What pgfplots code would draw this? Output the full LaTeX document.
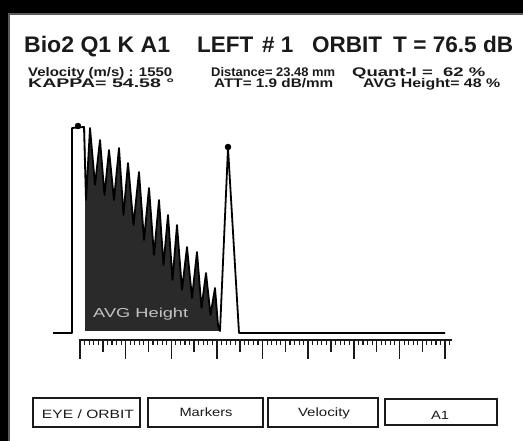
\documentclass[border=0pt]{standalone}
\usepackage{fontspec}
\setmainfont{Liberation Sans}
\usepackage{graphicx}
\usepackage{pgfplots}
\pgfplotsset{compat=1.18}

\definecolor{ink}{HTML}{1A1A1A}
\definecolor{frame}{HTML}{5A5A5A}
\definecolor{echo}{HTML}{2A2A2A}
\definecolor{gatetxt}{HTML}{C4C4C4}

% stretch a text horizontally to a given width, keeping its height
\newcommand\fitw[2]{\resizebox{#1}{\height}{#2}}

\begin{document}
\begin{tikzpicture}[x=1pt,y=1pt]
\useasboundingbox (0,0) rectangle (523,441);
% screen background and panel
\fill[black] (0,0) rectangle (523,441);
\fill[white] (9,0) rectangle (530,427);
\draw[frame, line width=2.5pt] (9,-5) -- (9,427) -- (530,427);

\begin{axis}[
  at={(0,0)}, anchor=south west,
  width=523pt, height=441pt, scale only axis,
  xmin=0, xmax=523, ymin=0, ymax=441, y dir=reverse,
  axis lines=none, clip=false,
]
% header
\node[anchor=base west, inner sep=0, font=\fontsize{22.5}{26}\selectfont\bfseries, text=ink] at (24,53) {\fitw{146pt}{Bio2 Q1 K A1}};
\node[anchor=base west, inner sep=0, font=\fontsize{22.5}{26}\selectfont\bfseries, text=ink] at (197,53) {LEFT};
\node[anchor=base west, inner sep=0, font=\fontsize{22.5}{26}\selectfont\bfseries, text=ink] at (262,53) {\# 1};
\node[anchor=base west, inner sep=0, font=\fontsize{22.5}{26}\selectfont\bfseries, text=ink] at (312,53) {ORBIT};
\node[anchor=base west, inner sep=0, font=\fontsize{22.5}{26}\selectfont\bfseries, text=ink] at (393,53) {\fitw{120pt}{T = 76.5 dB}};

\node[anchor=base west, inner sep=0, font=\fontsize{12.5}{14}\selectfont\bfseries, text=ink] at (28,76.5) {\fitw{144pt}{Velocity (m/s) : 1550}};
\node[anchor=base west, inner sep=0, font=\fontsize{12.5}{14}\selectfont\bfseries, text=ink] at (211,76.5) {\fitw{124pt}{Distance= 23.48 mm}};
\node[anchor=base west, inner sep=0, font=\fontsize{12.5}{14}\selectfont\bfseries, text=ink] at (352,76.5) {\fitw{133pt}{Quant-I =\ \ 62 \%}};
\node[anchor=base west, inner sep=0, font=\fontsize{12.5}{14}\selectfont\bfseries, text=ink] at (28,87.5) {\fitw{146pt}{KAPPA= 54.58 °}};
\node[anchor=base west, inner sep=0, font=\fontsize{12.5}{14}\selectfont\bfseries, text=ink] at (214,87.5) {\fitw{119pt}{ATT= 1.9 dB/mm}};
\node[anchor=base west, inner sep=0, font=\fontsize{12.5}{14}\selectfont\bfseries, text=ink] at (363,87.5) {\fitw{137pt}{AVG Height= 48 \%}};

% back-wall echo train (filled body)
\addplot[draw=none, fill=echo] coordinates {
 (85,128) (86,200) (90,128) (95,185) (100,140) (104.5,195) (109,150)
 (114,200) (119,148) (123.5,215) (128,163) (133.5,225) (139,172)
 (144,240) (149,188) (154,255) (159,200) (163.5,265) (168,215)
 (172.5,280) (177,225) (182,290) (187,247) (192,298) (197,252)
 (201.5,308) (206,273) (210.5,315) (215,288) (218,325) (220,331) (85,331)
};
\node[anchor=base west, inner sep=0, font=\fontsize{13}{15}\selectfont, text=gatetxt] at (93,318) {\fitw{95pt}{AVG Height}};

% A-scan trace
\addplot[black, line width=1.8pt, line join=round] coordinates {
 (53,333) (72,333) (72,128) (84,127) (86,200) (90,128) (95,185)
 (100,140) (104.5,195) (109,150) (114,200) (119,148) (123.5,215)
 (128,163) (133.5,225) (139,172) (144,240) (149,188) (154,255)
 (159,200) (163.5,265) (168,215) (172.5,280) (177,225) (182,290)
 (187,247) (192,298) (197,252) (201.5,308) (206,273) (210.5,315)
 (215,288) (218,325) (220,331) (228,148) (239,333) (445,333)
};
% peak markers
\addplot[only marks, mark=*, mark size=3pt, black] coordinates {(78,126) (228,147)};

% buttons
\draw[ink, line width=2.4pt] (33,398) rectangle (140,427);
\draw[ink, line width=1.6pt] (148,398) rectangle (263,427);
\draw[ink, line width=1.6pt] (268,398) rectangle (378,427);
\draw[ink, line width=1.6pt] (385,399) rectangle (497,425);
\node[anchor=base, inner sep=0, font=\fontsize{12}{14}\selectfont, text=ink] at (88,418) {\fitw{92pt}{EYE / ORBIT}};
\node[anchor=base, inner sep=0, font=\fontsize{12}{14}\selectfont, text=ink] at (206,416) {\fitw{53pt}{Markers}};
\node[anchor=base, inner sep=0, font=\fontsize{12}{14}\selectfont, text=ink] at (324,417) {\fitw{52pt}{Velocity}};
\node[anchor=base, inner sep=0, font=\fontsize{12}{14}\selectfont, text=ink] at (440,419) {\fitw{18pt}{A1}};
\end{axis}

% depth ruler below the trace: major every 10, mid every 5, minor every 1
\begin{axis}[
  at={(79pt,101pt)}, anchor=north west,
  width=373pt, height=20pt, scale only axis,
  xmin=-0.22, xmax=81.5, ymin=0, ymax=1,
  axis x line=top, axis y line=none,
  x axis line style={-, line width=1.6pt, draw=ink},
  tick align=inside,
  xtick={0,10,...,80},
  minor xtick={0,1,...,81},
  extra x ticks={5,15,...,75},
  xticklabels={}, extra x tick labels={},
  major tick length=19pt, minor tick length=5pt,
  every tick/.style={ink, line width=1.5pt},
  extra tick style={major tick length=12pt},
  minor tick style={line width=1.1pt},
]
\end{axis}
\end{tikzpicture}
\end{document}
